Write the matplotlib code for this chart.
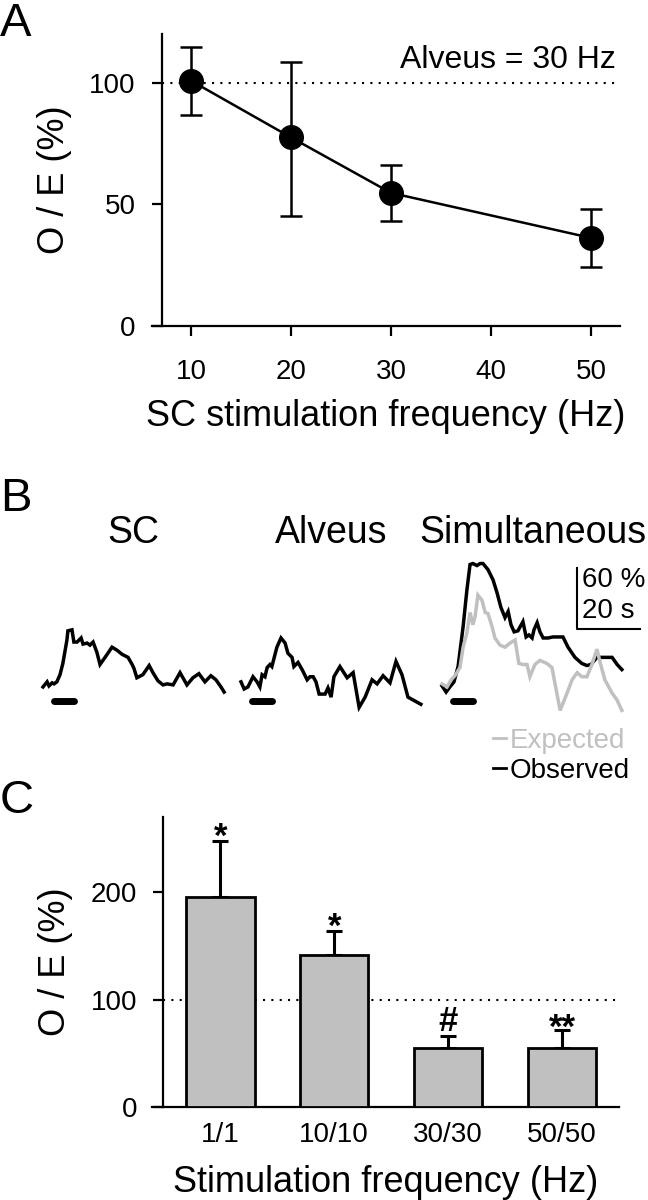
import numpy as np
import matplotlib
matplotlib.use('Agg')
import matplotlib.pyplot as plt
from matplotlib.lines import Line2D

plt.rcParams['font.family'] = ['Liberation Sans', 'DejaVu Sans']

# ---- panel A : O/E vs SC frequency (alveus fixed at 30 Hz)
freq_a = [10, 20, 30, 50]
oe_a = [100.8, 77.5, 54.7, 36.2]
oe_a_hi = [114.7, 108.6, 66.3, 48.1]
oe_a_lo = [86.8, 45.3, 43.2, 24.3]
xticks_a = [10, 20, 30, 40, 50]
yticks_a = [0, 50, 100]

# ---- panel B : example traces (time in s, signal in %)
sc_t = [0, 1.3, 1.9, 2.9, 3.5, 4.4, 5.4, 6.3, 7.6, 7.9, 9.2, 9.8, 10.8, 12.1, 12.7,
        14.0, 14.9, 15.9, 17.1, 18.1, 19.7, 21.9, 23.5, 25.1, 27.0, 28.3, 28.9, 29.8,
        31.7, 33.7, 34.9, 36.5, 38.1, 39.4, 41.3, 43.5, 45.7, 47.6, 49.5, 51.4, 53.3,
        54.9, 56.5, 57.5]
sc_v = [3, 8, 4, 7, 6, 8, 15, 26, 49, 58, 59, 47, 47, 51, 45, 46, 44, 47, 37, 25, 32,
        42, 39, 35, 32, 25, 21, 12, 15, 24, 17, 9, 5, 6, 5, 17, 5, 12, 16, 8, 14, 10, 3, -2]

alv_t = [0, 1.0, 2.2, 3.8, 5.1, 6.0, 6.7, 7.6, 8.3, 9.2, 9.8, 11.4, 12.7, 14.0, 14.9,
         16.2, 16.8, 18.1, 19.4, 21.0, 21.9, 22.9, 23.8, 24.8, 26.7, 27.6, 28.6, 29.5,
         31.4, 33.7, 35.6, 37.5, 39.4, 41.6, 43.2, 45.1, 47.3, 49.2, 51.1, 53.0, 57.1]
alv_v = [8, 1, 3, 13, 8, 3, 15, 13, 22, 25, 23, 42, 51, 46, 36, 32, 23, 27, 20, 10, 13,
         13, 8, -4, -4, 2, -7, 13, 23, 12, 17, -17, -7, 10, 6, 14, 7, 28, 15, -7, -14]

obs_t = [0, 1.3, 2.5, 3.8, 5.1, 6.7, 7.9, 8.9, 9.8, 11.1, 12.1, 13.0, 14.6, 16.2, 17.5,
         18.7, 20.0, 21.0, 21.9, 22.9, 24.1, 25.7, 26.7, 27.6, 28.6, 29.2, 30.2, 31.1,
         32.1, 33.7, 35.2, 36.8, 38.4, 40.0, 42.2, 44.4, 46.0, 47.3, 49.2, 51.1, 54.0,
         55.6, 57.1]
obs_v = [4, -2, 3, 8, 23, 62, 98, 123, 124, 122, 124, 124, 118, 108, 95, 81, 71, 77, 64,
         57, 58, 67, 52, 54, 51, 59, 66, 57, 51, 51, 52, 52, 52, 42, 32, 26, 24, 25, 32,
         32, 32, 25, 20]

exp_t = [0, 1.6, 2.9, 4.1, 5.7, 6.7, 7.9, 8.9, 9.8, 10.5, 11.4, 12.7, 13.7, 14.6, 15.9,
         16.8, 18.4, 20.0, 21.6, 23.2, 24.4, 25.7, 27.0, 27.9, 29.5, 31.1, 33.3, 34.9,
         37.5, 39.7, 41.3, 42.9, 44.4, 46.0, 47.6, 49.2, 50.2, 51.7, 54.0, 55.6, 57.1]
exp_v = [6, 3, 10, 14, 22, 42, 56, 76, 64, 72, 93, 88, 76, 75, 62, 51, 44, 42, 46, 49,
         26, 25, 25, 13, 25, 29, 26, 22, -20, -3, 10, 17, 13, 13, 25, 40, 27, 10, -3,
         -10, -20]

stim_on, stim_off, stim_y = 3.6, 9.7, -11
trace_titles = ['SC', 'Alveus', 'Simultaneous']

# ---- panel C : O/E for matched frequencies
cats_c = ['1/1', '10/10', '30/30', '50/50']
oe_c = [195.7, 141.9, 54.7, 54.7]
sem_c = [51.8, 22.1, 11.1, 17.3]
marks_c = ['*', '*', '#', '**']
yticks_c = [0, 100, 200]

W, H = 648, 1200
fig = plt.figure(figsize=(6.48, 12), dpi=100)


def px(l, t, r, b):
    return [l / W, 1 - b / H, (r - l) / W, (b - t) / H]


def style_axis(ax, spine_x):
    for s in ['top', 'right']:
        ax.spines[s].set_visible(False)
    ax.spines['left'].set_position(('data', spine_x))
    for s in ['left', 'bottom']:
        ax.spines[s].set_linewidth(1.6)
    ax.tick_params(direction='out', length=7, width=1.6, labelsize=20)


# ---------------- A
axA = fig.add_axes(px(152, 34, 620, 326))
axA.set_xlim(6.1, 52.9)
axA.set_ylim(0, 120)
style_axis(axA, 7.1)
axA.axhline(100, xmin=(7.1 - 6.1) / 46.8, xmax=1, color='k', lw=1.5, ls=(0, (1, 3)))
axA.errorbar(freq_a, oe_a,
             yerr=[np.array(oe_a) - np.array(oe_a_lo), np.array(oe_a_hi) - np.array(oe_a)],
             fmt='-o', color='k', ms=17, lw=1.8, elinewidth=1.8, capsize=8, capthick=1.8)
axA.set_xticks(xticks_a)
axA.set_yticks(yticks_a)
axA.tick_params(axis='x', pad=17)
axA.tick_params(axis='y', pad=12)
axA.set_xlabel('SC stimulation frequency (Hz)', fontsize=26, labelpad=10)
axA.set_ylabel('O / E (%)', fontsize=26)
axA.yaxis.set_label_coords(-0.17, 0.5)
axA.text(52.5, 109.5, 'Alveus = 30 Hz', ha='right', va='center', fontsize=23)

# ---------------- B
pps, ppv = 3.15, 1.02   # pixels per second / per percent
tlim, vlim = (-1, 58.5), (-25, 130)
wpx = (tlim[1] - tlim[0]) * pps
hpx = (vlim[1] - vlim[0]) * ppv
top = 690 - vlim[1] * ppv
traces = [[(sc_t, sc_v, 'k')], [(alv_t, alv_v, 'k')],
          [(obs_t, obs_v, 'k'), (exp_t, exp_v, '#c0c0c0')]]
lefts = [43, 241, 442]
axB = []
for left, tr, title in zip(lefts, traces, trace_titles):
    l = left + tlim[0] * pps
    ax = fig.add_axes(px(l, top, l + wpx, top + hpx))
    ax.set_xlim(tlim)
    ax.set_ylim(vlim)
    ax.axis('off')
    for t, v, c in tr:
        ax.plot(t, v, color=c, lw=2.5, solid_joinstyle='miter')
    ax.plot([stim_on, stim_off], [stim_y, stim_y], color='k', lw=5, solid_capstyle='round')
    # title centred over the trace
    tc = (left + 28.7 * pps) / W
    fig.text(tc, 1 - 543 / H, title, ha='center', va='baseline', fontsize=27)
    axB.append(ax)

# scale bar
axS = axB[2]
sb_t, sb_v = 42.9, 60
axS.plot([sb_t, sb_t, sb_t + 20], [sb_v + 60, sb_v, sb_v], color='k', lw=1.5, clip_on=False)
axS.text(sb_t + 1.5, sb_v + 48, '60 %', ha='left', va='center', fontsize=20)
axS.text(sb_t + 1.5, sb_v + 17, '20 s', ha='left', va='center', fontsize=20)

handles = [Line2D([], [], color='#c0c0c0', lw=2), Line2D([], [], color='k', lw=2)]
fig.legend(handles, ['Expected', 'Observed'], loc='upper left',
           bbox_to_anchor=(493 / W, 1 - 728 / H), frameon=False, fontsize=20,
           handlelength=0.45, handletextpad=0.15, labelspacing=0.15,
           borderpad=0, borderaxespad=0, labelcolor='linecolor')

# ---------------- C
axC = fig.add_axes(px(152, 817, 619, 1107))
xc = np.arange(len(cats_c))
axC.set_xlim(-0.6, 3.5)
axC.set_ylim(0, 270)
style_axis(axC, -0.5)
axC.axhline(100, xmin=0.1 / 4.1, xmax=1, color='k', lw=1.5, ls=(0, (1, 3)), zorder=1)
axC.bar(xc, oe_c, width=0.6, color='#c0c0c0', edgecolor='k', lw=2, zorder=3)
axC.errorbar(xc, oe_c, yerr=[np.zeros(4), sem_c], fmt='none', ecolor='k',
             elinewidth=2.2, capsize=6, capthick=2.2, zorder=2)
mark_off = [-4, -4, 4, -6]
for x, y, e, m, o in zip(xc, oe_c, sem_c, marks_c, mark_off):
    axC.annotate(m, (x, y + e), xytext=(0, o), textcoords='offset points',
                 ha='center', va='baseline', fontsize=25, fontweight='bold')
axC.set_xticks(xc)
axC.set_xticklabels(cats_c)
axC.set_yticks(yticks_c)
axC.tick_params(axis='x', length=0, pad=11)
axC.tick_params(axis='y', pad=12)
axC.set_xlabel('Stimulation frequency (Hz)', fontsize=26, labelpad=12)
axC.set_ylabel('O / E (%)', fontsize=26)
axC.yaxis.set_label_coords(-0.17, 0.5)

# panel letters
for y, lab in [(2, 'A'), (477, 'B'), (779, 'C')]:
    fig.text(0, 1 - y / H, lab, ha='left', va='top', fontsize=34)

fig.savefig('out.png', dpi=100)
